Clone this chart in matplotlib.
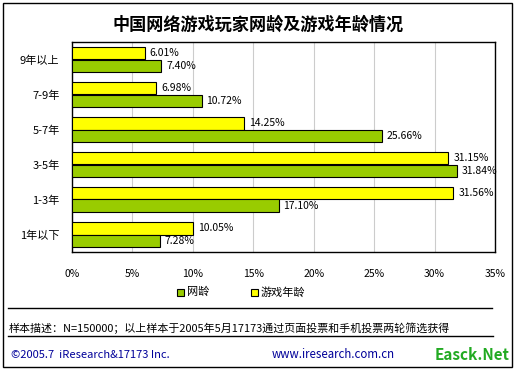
import numpy as np
import matplotlib.pyplot as plt
from matplotlib.patches import Rectangle
from matplotlib.lines import Line2D

plt.rcParams['font.family'] = ['Noto Sans CJK SC', 'DejaVu Sans']

# 데이터
categories = ['9年以上', '7-9年', '5-7年', '3-5年', '1-3年', '1年以下']
net_age = [7.40, 10.72, 25.66, 31.84, 17.10, 7.28]      # 网龄
game_age = [6.01, 6.98, 14.25, 31.15, 31.56, 10.05]     # 游戏年龄
xticks = [0, 5, 10, 15, 20, 25, 30, 35]

W, H = 517, 370
fig = plt.figure(figsize=(W / 100, H / 100), dpi=100)
fig.patch.set_facecolor('white')

def px(x0, y0, x1, y1):
    # 픽셀 좌표 -> figure 좌표
    return [x0 / W, 1 - y1 / H, (x1 - x0) / W, (y1 - y0) / H]

# 바깥 테두리
fig.add_artist(Rectangle((3 / W, 3 / H), 509 / W, 364 / H, transform=fig.transFigure,
                         fill=False, edgecolor='black', linewidth=1))

fig.text(0.5, 1 - 25 / H, '中国网络游戏玩家网龄及游戏年龄情况', ha='center', va='center',
         fontsize=12.3, fontweight='bold')

ax = fig.add_axes(px(72, 42, 495, 252))
y = np.arange(len(categories))
h = 0.36
ax.barh(y - h / 2, game_age, height=h, color='#FFFF00', edgecolor='black', linewidth=0.8, zorder=3)
ax.barh(y + h / 2, net_age, height=h, color='#99CC00', edgecolor='black', linewidth=0.8, zorder=3)

for i in range(len(categories)):
    ax.text(game_age[i] + 0.4, y[i] - h / 2, f'{game_age[i]:.2f}%', va='center', ha='left', fontsize=7.5)
    ax.text(net_age[i] + 0.4, y[i] + h / 2, f'{net_age[i]:.2f}%', va='center', ha='left', fontsize=7.5)

ax.set_xlim(0, 35)
ax.set_ylim(len(categories) - 0.5, -0.5)
ax.set_yticks(y)
ax.set_yticklabels(categories, fontsize=8)
ax.set_xticks(xticks)
ax.set_xticklabels([f'{t}%' for t in xticks], fontsize=7.5)
ax.tick_params(length=0, pad=12)
ax.tick_params(axis='y', pad=9)
ax.grid(axis='x', color='#CCCCCC', linewidth=0.8, zorder=0)
for s in ax.spines.values():
    s.set_linewidth(1)

# 범례
legend_items = [(177, '#99CC00', '网龄'), (251, '#FFFF00', '游戏年龄')]
for x0, c, lab in legend_items:
    fig.add_artist(Rectangle((x0 / W, 1 - 296 / H), 7 / W, 7 / H, transform=fig.transFigure,
                             facecolor=c, edgecolor='black', linewidth=0.8))
    fig.text((x0 + 10) / W, 1 - 292 / H, lab, va='center', ha='left', fontsize=8)

fig.add_artist(Line2D([8 / W, 492 / W], [1 - 308 / H, 1 - 308 / H], color='black', linewidth=1))
fig.text(9 / W, 1 - 328 / H, '样本描述：N=150000；以上样本于2005年5月17173通过页面投票和手机投票两轮筛选获得',
         va='center', ha='left', fontsize=7.9)
fig.add_artist(Line2D([8 / W, 493 / W], [1 - 336 / H, 1 - 336 / H], color='black', linewidth=1))

fig.text(11 / W, 1 - 355 / H, '©2005.7  iResearch&17173 Inc.', va='center', ha='left',
         fontsize=8, color='#000099')
fig.text(272 / W, 1 - 355 / H, 'www.iresearch.com.cn', va='center', ha='left',
         fontsize=8.3, color='#000099')
fig.text(510 / W, 1 - 355 / H, 'Easck.Net', va='center', ha='right',
         fontsize=11, fontweight='bold', color='#22AA22')

fig.savefig('out.png', dpi=100)
